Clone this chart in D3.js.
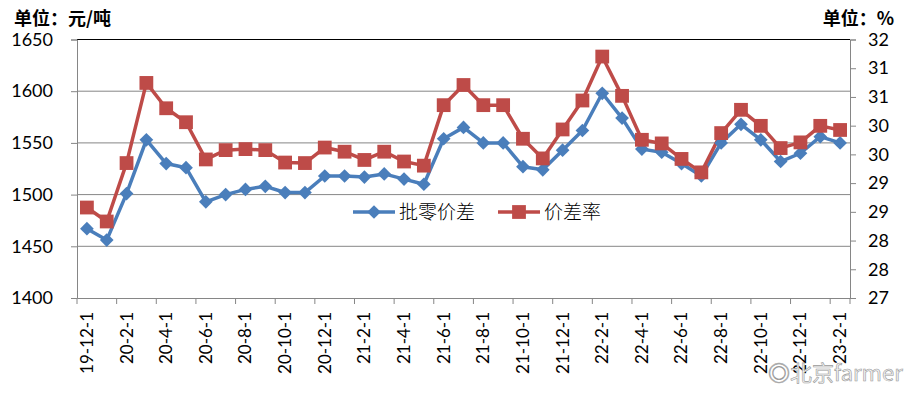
<!DOCTYPE html>
<html>
<head>
<meta charset="utf-8">
<script src="https://cdn.jsdelivr.net/npm/d3@7"></script>
<style>
body { margin: 0; background: #fff; }
svg { display: block; }
.axis text { font-family: Lato, "Noto Sans", sans-serif; fill: #000; }
.axis path, .axis line { stroke: #868686; }
</style>
</head>
<body>
<div id="chart"></div>
<script>
// data
const months = ["19-12-1","20-1-1","20-2-1","20-3-1","20-4-1","20-5-1","20-6-1","20-7-1","20-8-1","20-9-1",
  "20-10-1","20-11-1","20-12-1","21-1-1","21-2-1","21-3-1","21-4-1","21-5-1","21-6-1","21-7-1",
  "21-8-1","21-9-1","21-10-1","21-11-1","21-12-1","22-1-1","22-2-1","22-3-1","22-4-1","22-5-1",
  "22-6-1","22-7-1","22-8-1","22-9-1","22-10-1","22-11-1","22-12-1","23-1-1","23-2-1"]
// 批零价差, 元/吨 (left axis)
const spread = [1467,1456,1501,1553,1530,1526,1493,1500,1505,1508,
  1502,1502,1518,1518,1517,1520,1515,1510,1554,1565,
  1550,1550,1527,1524,1543,1562,1598,1574,1544,1541,
  1530,1518,1550,1568,1553,1532,1540,1556,1550]
// 价差率, % (right axis)
const rate = [28.75,28.48,29.61,31.16,30.67,30.40,29.68,29.86,29.88,29.86,
  29.62,29.61,29.91,29.83,29.67,29.83,29.64,29.56,30.73,31.12,
  30.73,30.73,30.08,29.70,30.26,30.82,31.67,30.91,30.06,29.99,
  29.69,29.43,30.19,30.64,30.33,29.90,30.01,30.33,30.25]
const leftTicks = [1400,1450,1500,1550,1600,1650]
const rightLabels = ["27","28","28","29","29","30","30","31","31","32"]
const seriesNames = ["批零价差","价差率"]

var width = 908, height = 393
var margin = {top: 39.5, right: 58, bottom: 95, left: 77}
var w = width - margin.left - margin.right
var h = height - margin.top - margin.bottom
var blue = "#4a7ebb", red = "#be4b48"

var svg = d3.select("#chart").append("svg")
    .attr("width", width)
    .attr("height", height)

var g = svg.append("g")
    .attr("transform", "translate(" + margin.left + "," + margin.top + ")")

var x = d3.scaleBand().domain(months).range([0, w])
var yL = d3.scaleLinear().domain([1400, 1650]).range([h, 0])
var yR = d3.scaleLinear().domain([27, 32]).range([h, 0])
var cx = function(d, i) { return x(months[i]) + x.bandwidth() / 2 }

// grid lines
g.selectAll(".grid")
    .data(leftTicks.slice(1, -1))
  .enter().append("line")
    .attr("x1", 0).attr("x2", w)
    .attr("y1", d => yL(d)).attr("y2", d => yL(d))
    .attr("stroke", "#868686")
// top border
g.append("line").attr("x1", 0).attr("x2", w).attr("y1", 0).attr("y2", 0).attr("stroke", "#000")

// left axis
var axL = g.append("g").attr("class", "axis")
    .call(d3.axisLeft(yL).tickValues(leftTicks).tickFormat(d3.format("d")).tickSize(6).tickPadding(18))
axL.selectAll("text").style("font-size", "18px")

// right axis
var rightTicks = rightLabels.map((d, i) => 27 + i * 5 / (rightLabels.length - 1))
var axR = g.append("g").attr("class", "axis")
    .attr("transform", "translate(" + w + ",0)")
    .call(d3.axisRight(yR).tickValues(rightTicks).tickFormat((d, i) => rightLabels[i]).tickSize(6).tickPadding(12))
axR.selectAll("text").style("font-size", "18px")

// bottom axis, labels on every other month
var axB = g.append("g").attr("class", "axis")
    .attr("transform", "translate(0," + h + ")")
    .call(d3.axisBottom(x).tickValues(months.filter((d, i) => i % 2 == 0)).tickSize(0))
axB.select(".domain").attr("stroke", "#868686")
axB.selectAll("text")
    .style("font-size", "17px")
    .attr("transform", "rotate(-90)")
    .attr("text-anchor", "end")
    .attr("x", -14)
    .attr("y", 0)
    .attr("dy", "0.35em")
// tick marks between the labels
var bnd = months.filter((d, i) => i % 2 == 0).map(d => x(d))
bnd.push(w)
axB.selectAll(".tk")
    .data(bnd)
  .enter().append("line")
    .attr("x1", d => d).attr("x2", d => d)
    .attr("y1", 0).attr("y2", 6)
    .attr("stroke", "#868686")

// lines
var lineL = d3.line().x(cx).y(d => yL(d))
var lineR = d3.line().x(cx).y(d => yR(d))

g.append("path").datum(spread)
    .attr("d", lineL).attr("fill", "none")
    .attr("stroke", blue).attr("stroke-width", 3.5).attr("stroke-linejoin", "round")
g.append("path").datum(rate)
    .attr("d", lineR).attr("fill", "none")
    .attr("stroke", red).attr("stroke-width", 3.5).attr("stroke-linejoin", "round")

var diamond = d3.symbol().type(d3.symbolDiamond2).size(120)
var square = d3.symbol().type(d3.symbolSquare).size(190)

g.selectAll(".dia")
    .data(spread)
  .enter().append("path")
    .attr("d", diamond)
    .attr("fill", blue)
    .attr("transform", (d, i) => "translate(" + cx(d, i) + "," + yL(d) + ")")
g.selectAll(".sq")
    .data(rate)
  .enter().append("path")
    .attr("d", square)
    .attr("fill", red)
    .attr("transform", (d, i) => "translate(" + cx(d, i) + "," + yR(d) + ")")

// legend
var leg = svg.append("g").attr("transform", "translate(353,212)")
var items = [{name: seriesNames[0], color: blue, sym: diamond, x: 0},
             {name: seriesNames[1], color: red, sym: square, x: 145}]
items.forEach(function(it) {
  var lg = leg.append("g").attr("transform", "translate(" + it.x + ",0)")
  lg.append("line").attr("x1", 0).attr("x2", 42).attr("stroke", it.color).attr("stroke-width", 3.5)
  lg.append("path").attr("d", it.sym).attr("fill", it.color).attr("transform", "translate(21,0)")
  lg.append("text").attr("x", 46).attr("dy", "0.36em")
      .style("font-family", "'Noto Sans CJK SC', sans-serif").style("font-size", "19px")
      .style("font-weight", 300)
      .text(it.name)
})

// unit titles
svg.append("text").attr("x", 14).attr("y", 25)
    .style("font-family", "'Noto Sans CJK SC', sans-serif").style("font-size", "18px").style("font-weight", "bold")
    .text("单位：元/吨")
svg.append("text").attr("x", 894).attr("y", 25).attr("text-anchor", "end")
    .style("font-family", "'Noto Sans CJK SC', sans-serif").style("font-size", "18px").style("font-weight", "bold")
    .text("单位：%")

// watermark
svg.append("text").attr("x", 768).attr("y", 381)
    .style("font-family", "'Noto Sans CJK SC', sans-serif").style("font-size", "22px")
    .attr("fill", "#f2f2f2").attr("stroke", "#9a9a9a").attr("stroke-width", 0.6)
    .text("◎北京farmer")
</script>
</body>
</html>
